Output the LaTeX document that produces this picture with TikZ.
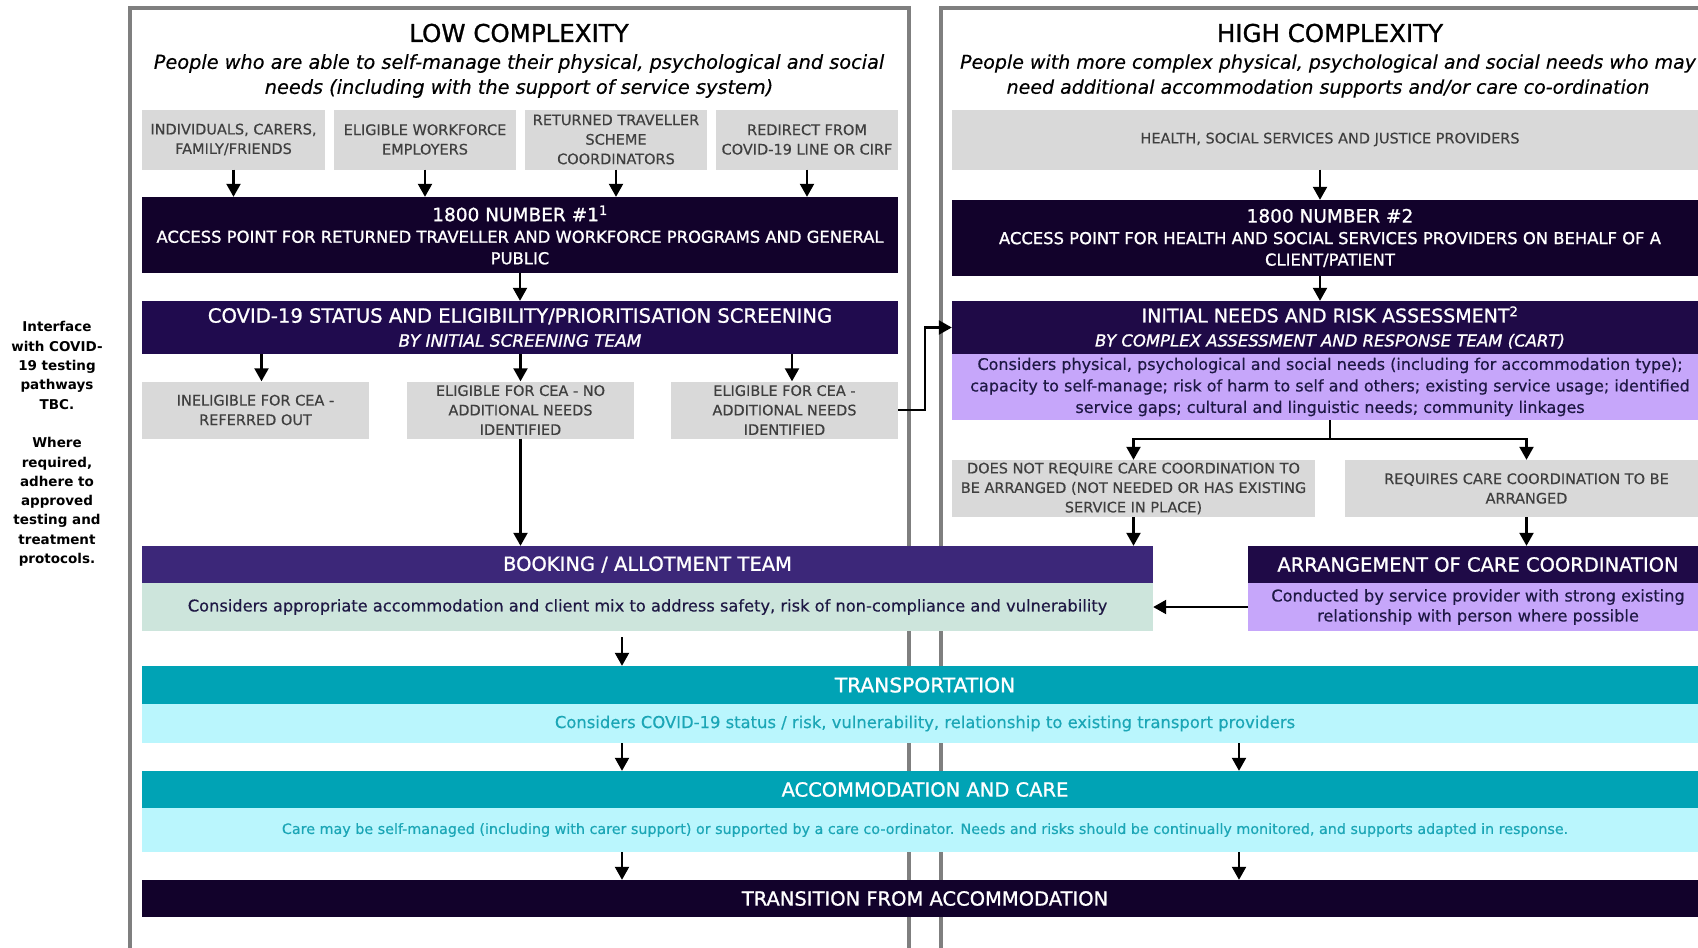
\documentclass[tikz,border=0pt]{standalone}
\usepackage{fontspec}
\setmainfont{DejaVu Sans}
\newfontfamily\plainfont[FakeBold=0.4]{DejaVu Sans}
\newfontfamily\headfont[FakeBold=1.1]{DejaVu Sans}
\usetikzlibrary{arrows.meta,calc}
\definecolor{FrameGrey}{HTML}{7F7F7F}
\definecolor{BoxGrey}{HTML}{D9D9D9}
\definecolor{GreyText}{HTML}{3F3F3F}
\definecolor{Ink}{HTML}{12022B}
\definecolor{Indigo}{HTML}{200B4E}
\definecolor{Plum}{HTML}{1F0A47}
\definecolor{Lavender}{HTML}{C6A6FA}
\definecolor{Violet}{HTML}{3C2779}
\definecolor{Mint}{HTML}{CDE5DC}
\definecolor{Teal}{HTML}{00A3B5}
\definecolor{Ice}{HTML}{BAF6FD}
\definecolor{TealText}{HTML}{1BA6B6}
\definecolor{NavyText}{HTML}{1E1844}
\newcommand{\fsz}[2]{\fontsize{#1pt}{#2pt}\selectfont}

\begin{document}
\begin{tikzpicture}[x=1pt,y=-1pt,
  panel/.style={draw=FrameGrey,line width=3.5pt},
  srcbox/.style={fill=BoxGrey,text=GreyText,align=center,inner sep=0pt,minimum height=60pt,font=\plainfont\fsz{14.5}{19.5}},
  pick/.style={srcbox,minimum width=227pt,minimum height=57pt},
  access/.style={fill=Ink,text=white,align=center,inner sep=0pt,minimum width=756pt,minimum height=76pt,font=\headfont\fsz{16.4}{21.5}},
  band/.style={text=white,align=center,inner sep=0pt,font=\headfont\fsz{19.5}{23}},
  detail/.style={align=center,inner sep=0pt,font=\plainfont\fsz{16}{21.5}},
  arrow/.style={-{Triangle[width=14pt,length=13pt]},line width=2.2pt},
  link/.style={line width=2.2pt}
]
\useasboundingbox (0,0) rectangle (1698,948);
\clip (0,0) rectangle (1698,948);
\fill[white] (0,0) rectangle (1698,948);

% the two complexity columns
\draw[panel] (130,960) |- (909,8) -- (909,960);
\draw[panel] (941,960) |- (1720,8);

\node[align=center,font=\bfseries\fsz{13.5}{19.3}] (note) at (57,444) {Interface\\with COVID-\\19 testing\\pathways\\TBC.\\[19.3pt]Where\\required,\\adhere to\\approved\\testing and\\treatment\\protocols.};

\node[font=\headfont\fsz{24.5}{28}] (lowtitle) at (519,33) {LOW COMPLEXITY};
\node[align=center,font=\plainfont\itshape\fsz{19.3}{25}] (lowsub) at (519,76) {People who are able to self-manage their physical, psychological and social\\needs (including with the support of service system)};
\node[font=\headfont\fsz{24.5}{28}] (hightitle) at (1330,33) {HIGH COMPLEXITY};
\node[align=center,font=\plainfont\itshape\fsz{19}{25}] (highsub) at (1328,76) {People with more complex physical, psychological and social needs who may\\need additional accommodation supports and/or care co-ordination};

\node[srcbox,minimum width=183pt] (ind) at (233.5,139.5) {INDIVIDUALS, CARERS,\\FAMILY/FRIENDS};
\node[srcbox,minimum width=182pt] (wfe) at (425,139.5) {ELIGIBLE WORKFORCE\\EMPLOYERS};
\node[srcbox,minimum width=182pt] (rts) at (616,139.5) {RETURNED TRAVELLER\\SCHEME\\COORDINATORS};
\node[srcbox,minimum width=182pt] (cov) at (807,139.5) {REDIRECT FROM\\COVID-19 LINE OR CIRF};
\node[srcbox,minimum width=756pt] (hsp) at (1330,139.5) {HEALTH, SOCIAL SERVICES AND JUSTICE PROVIDERS};

\node[access] (num1) at (520,235) {{\fsz{18.5}{22}1800 NUMBER \#1\textsuperscript{1}}\\ACCESS POINT FOR RETURNED TRAVELLER AND WORKFORCE PROGRAMS AND GENERAL\\PUBLIC};
\node[access] (num2) at (1330,238) {{\fsz{18.5}{22}1800 NUMBER \#2}\\ACCESS POINT FOR HEALTH AND SOCIAL SERVICES PROVIDERS ON BEHALF OF A\\CLIENT/PATIENT};

\node[band,fill=Indigo,minimum width=756pt,minimum height=53pt,font=\headfont\fsz{19.6}{24}] (scr) at (520,327.5) {COVID-19 STATUS AND ELIGIBILITY/PRIORITISATION SCREENING\\{\itshape\fsz{16.9}{20}BY INITIAL SCREENING TEAM}};
\node[band,fill=Plum,minimum width=756pt,minimum height=53pt,font=\headfont\fsz{19}{24}] (cart) at (1330,327.5) {INITIAL NEEDS AND RISK ASSESSMENT\textsuperscript{2}\\{\itshape\fsz{16.5}{20}BY COMPLEX ASSESSMENT AND RESPONSE TEAM (CART)}};
\node[detail,fill=Lavender,text=NavyText,minimum width=756pt,minimum height=66pt] (cartbody) at (1330,387) {Considers physical, psychological and social needs (including for accommodation type);\\capacity to self-manage; risk of harm to self and others; existing service usage; identified\\service gaps; cultural and linguistic needs; community linkages};

\node[pick] (inel) at (255.5,410) {INELIGIBLE FOR CEA -\\REFERRED OUT};
\node[pick] (elno) at (520.5,410) {ELIGIBLE FOR CEA - NO\\ADDITIONAL NEEDS\\IDENTIFIED};
\node[pick] (elad) at (784.5,410) {ELIGIBLE FOR CEA -\\ADDITIONAL NEEDS\\IDENTIFIED};
\node[pick,minimum width=363pt] (nocc) at (1133.5,488.5) {DOES NOT REQUIRE CARE COORDINATION TO\\BE ARRANGED (NOT NEEDED OR HAS EXISTING\\SERVICE IN PLACE)};
\node[pick,minimum width=363pt] (reqcc) at (1526.5,488.5) {REQUIRES CARE COORDINATION TO BE\\ARRANGED};

\node[band,fill=Violet,minimum width=1011pt,minimum height=37pt] (book) at (647.5,564.5) {BOOKING / ALLOTMENT TEAM};
\node[detail,fill=Mint,text=NavyText,minimum width=1011pt,minimum height=48pt,font=\plainfont\fsz{16.25}{21}] (bookbody) at (647.5,607) {Considers appropriate accommodation and client mix to address safety, risk of non-compliance and vulnerability};
\node[band,fill=Plum,minimum width=460pt,minimum height=37pt] (arr) at (1478,564.5) {ARRANGEMENT OF CARE COORDINATION};
\node[detail,fill=Lavender,text=NavyText,minimum width=460pt,minimum height=48pt,font=\plainfont\fsz{16.2}{20}] (arrbody) at (1478,607) {Conducted by service provider with strong existing\\relationship with person where possible};

\node[band,fill=Teal,minimum width=1566pt,minimum height=38pt,font=\headfont\fsz{20.2}{23}] (trans) at (925,685) {TRANSPORTATION};
\node[detail,fill=Ice,text=TealText,minimum width=1566pt,minimum height=39pt,font=\plainfont\fsz{16.4}{20}] (transbody) at (925,723.5) {Considers COVID-19 status / risk, vulnerability, relationship to existing transport providers};
\node[band,fill=Teal,minimum width=1566pt,minimum height=37pt] (acc) at (925,789.5) {ACCOMMODATION AND CARE};
\node[detail,fill=Ice,text=TealText,minimum width=1566pt,minimum height=44pt,font=\plainfont\fsz{14.3}{18}] (accbody) at (925,830) {Care may be self-managed (including with carer support) or supported by a care co-ordinator. Needs and risks should be continually monitored, and supports adapted in response.};
\node[band,fill=Ink,minimum width=1566pt,minimum height=37pt] (transn) at (925,898.5) {TRANSITION FROM ACCOMMODATION};

\coordinate (lowlane) at (622,0);
\coordinate (highlane) at (1239,0);

\foreach \s in {ind,wfe,rts,cov}
  \draw[arrow] (\s.south) -- (\s.south |- num1.north);
\draw[arrow] ([xshift=-10pt]hsp.south) -- ([xshift=-10pt]num2.north);
\draw[arrow] (num1.south) -- (scr.north);
\draw[arrow] ([xshift=-10pt]num2.south) -- ([xshift=-10pt]cart.north);
\draw[arrow] ([xshift=6pt]inel.north |- scr.south) -- ([xshift=6pt]inel.north);
\draw[arrow] (elno.north |- scr.south) -- (elno.north);
\draw[arrow] ([xshift=7.5pt]elad.north |- scr.south) -- ([xshift=7.5pt]elad.north);
\draw[arrow] (elad.east) -- ++(27,0) |- (cart.west);
\draw[link] (cartbody.south) -- ++(0,19) coordinate (fork);
\draw[arrow] (fork) -| (nocc.north);
\draw[arrow] (fork) -| (reqcc.north);
\draw[arrow] (elno.south) -- (elno.south |- book.north);
\draw[arrow] (nocc.south) -- (nocc.south |- book.north);
\draw[arrow] (reqcc.south) -- (reqcc.south |- arr.north);
\draw[arrow] (arrbody.west) -- (bookbody.east);
\draw[arrow] ($(bookbody.south -| lowlane)+(0,6)$) -- (trans.north -| lowlane);
\foreach \l in {lowlane,highlane} {
  \draw[arrow] (transbody.south -| \l) -- (acc.north -| \l);
  \draw[arrow] (accbody.south -| \l) -- (transn.north -| \l);
}
\end{tikzpicture}
\end{document}
